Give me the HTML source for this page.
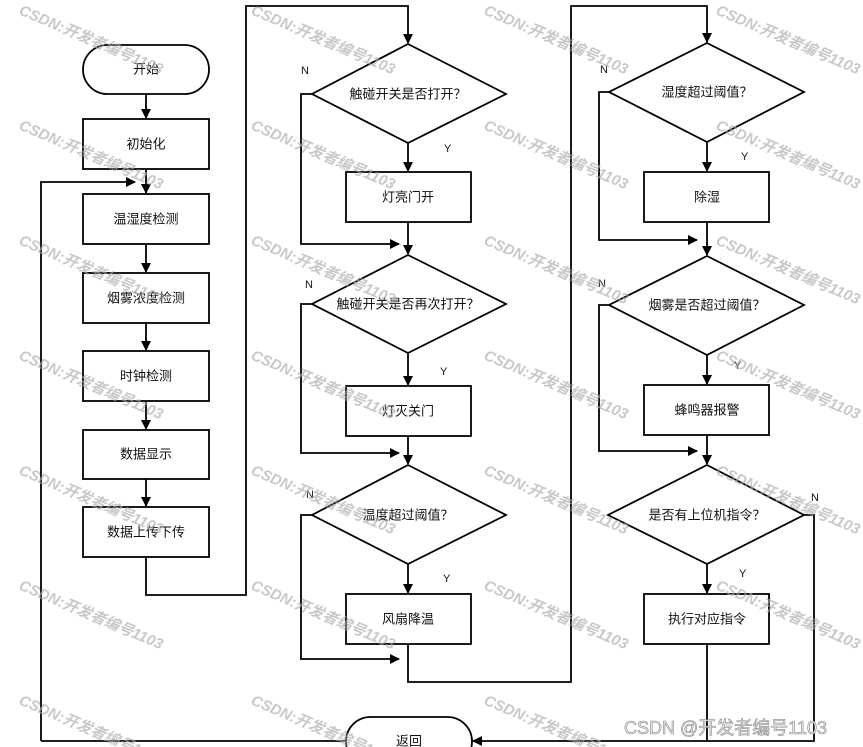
<!DOCTYPE html>
<html><head><meta charset="utf-8"><style>
html,body{margin:0;padding:0;background:#fff;}
svg{display:block;}
.t{font-family:"Liberation Sans","Noto Sans CJK SC",sans-serif;font-size:13px;fill:#111;text-anchor:middle;dominant-baseline:central;}
.yn{font-family:"Liberation Sans",sans-serif;font-size:11px;fill:#111;}
.wm{font-family:"Liberation Sans","Noto Sans CJK SC",sans-serif;font-size:15px;font-weight:bold;font-style:italic;fill:#aaa;fill-opacity:0.65;}
</style></head><body>
<svg width="863" height="747" viewBox="0 0 863 747" xmlns="http://www.w3.org/2000/svg">
<defs>
<marker id="a" markerWidth="10" markerHeight="10" refX="9" refY="5" orient="auto" markerUnits="userSpaceOnUse">
<path d="M0,0 L10,5 L0,10 z" fill="#000"/></marker>
</defs>
<g fill="none" stroke="#000" stroke-width="1.8">
<rect x="83" y="45" width="126" height="49" rx="24.5" fill="#fff"/>
<rect x="83" y="119" width="126" height="50" fill="#fff"/>
<rect x="83" y="194" width="126" height="50" fill="#fff"/>
<rect x="83" y="273" width="126" height="50" fill="#fff"/>
<rect x="83" y="351" width="126" height="50" fill="#fff"/>
<rect x="83" y="430" width="126" height="49" fill="#fff"/>
<rect x="83" y="507" width="126" height="50" fill="#fff"/>
<path d="M146,94 V118" marker-end="url(#a)"/>
<path d="M146,169 V193" marker-end="url(#a)"/>
<path d="M146,244 V272" marker-end="url(#a)"/>
<path d="M146,323 V350" marker-end="url(#a)"/>
<path d="M146,401 V429" marker-end="url(#a)"/>
<path d="M146,479 V506" marker-end="url(#a)"/>
<path d="M41,741 V182 H135" marker-end="url(#a)"/>
<path d="M146,557 V595 H246 V6 H408 V43" marker-end="url(#a)"/>
<polygon points="408,44 506,94 408,143 312,94" fill="#fff"/>
<rect x="346" y="172" width="125" height="50" fill="#fff"/>
<path d="M408,143 V171" marker-end="url(#a)"/>
<path d="M312,94 H301 V244 H399" marker-end="url(#a)"/>
<path d="M408,222 V254" marker-end="url(#a)"/>
<polygon points="408,255 506,304 408,353 312,304" fill="#fff"/>
<rect x="346" y="386" width="125" height="50" fill="#fff"/>
<path d="M408,353 V385" marker-end="url(#a)"/>
<path d="M312,304 H301 V453 H399" marker-end="url(#a)"/>
<path d="M408,436 V464" marker-end="url(#a)"/>
<polygon points="408,465 506,515 408,564 312,515" fill="#fff"/>
<rect x="346" y="594" width="125" height="50" fill="#fff"/>
<path d="M408,564 V593" marker-end="url(#a)"/>
<path d="M312,515 H301 V659 H399" marker-end="url(#a)"/>
<path d="M408,644 V682 H571 V6 H707 V42" marker-end="url(#a)"/>
<polygon points="707,43 804,92 707,142 609,92" fill="#fff"/>
<rect x="644" y="172" width="125" height="50" fill="#fff"/>
<path d="M707,142 V171" marker-end="url(#a)"/>
<path d="M609,92 H599 V240 H697" marker-end="url(#a)"/>
<path d="M707,222 V255" marker-end="url(#a)"/>
<polygon points="707,256 804,305 707,355 609,305" fill="#fff"/>
<rect x="644" y="385" width="125" height="50" fill="#fff"/>
<path d="M707,355 V384" marker-end="url(#a)"/>
<path d="M609,305 H599 V451 H697" marker-end="url(#a)"/>
<path d="M707,435 V464" marker-end="url(#a)"/>
<polygon points="707,465 804,515 707,564 608,515" fill="#fff"/>
<rect x="644" y="594" width="125" height="50" fill="#fff"/>
<path d="M707,564 V593" marker-end="url(#a)"/>
<path d="M707,644 V741"/>
<path d="M804,515 H814 V741 H473" marker-end="url(#a)"/>
<path d="M41,741 H346"/>
<rect x="346" y="717" width="126" height="49" rx="24.5" fill="#fff"/>
</g>
<text class="t" x="146" y="69">开始</text>
<text class="t" x="146" y="144">初始化</text>
<text class="t" x="146" y="219">温湿度检测</text>
<text class="t" x="146" y="298">烟雾浓度检测</text>
<text class="t" x="146" y="376">时钟检测</text>
<text class="t" x="146" y="454">数据显示</text>
<text class="t" x="146" y="532">数据上传下传</text>
<text class="t" x="408" y="94">触碰开关是否打开？</text>
<text class="t" x="408" y="197">灯亮门开</text>
<text class="t" x="408" y="304">触碰开关是否再次打开？</text>
<text class="t" x="408" y="411">灯灭关门</text>
<text class="t" x="408" y="515">温度超过阈值？</text>
<text class="t" x="408" y="619">风扇降温</text>
<text class="t" x="707" y="92">湿度超过阈值？</text>
<text class="t" x="707" y="197">除湿</text>
<text class="t" x="707" y="305">烟雾是否超过阈值？</text>
<text class="t" x="707" y="410">蜂鸣器报警</text>
<text class="t" x="707" y="515">是否有上位机指令？</text>
<text class="t" x="707" y="619">执行对应指令</text>
<text class="t" x="409" y="741">返回</text>
<text class="yn" x="301" y="74">N</text>
<text class="yn" x="444" y="152">Y</text>
<text class="yn" x="305" y="288">N</text>
<text class="yn" x="440" y="375">Y</text>
<text class="yn" x="306" y="498">N</text>
<text class="yn" x="443" y="582">Y</text>
<text class="yn" x="600" y="73">N</text>
<text class="yn" x="741" y="160">Y</text>
<text class="yn" x="598" y="287">N</text>
<text class="yn" x="734" y="369">Y</text>
<text class="yn" x="811" y="501">N</text>
<text class="yn" x="739" y="577">Y</text>
<g>
<g transform="translate(18,14) rotate(23)"><text class="wm">CSDN:开发者编号1103</text></g>
<g transform="translate(250,14) rotate(23)"><text class="wm">CSDN:开发者编号1103</text></g>
<g transform="translate(483,14) rotate(23)"><text class="wm">CSDN:开发者编号1103</text></g>
<g transform="translate(715,14) rotate(23)"><text class="wm">CSDN:开发者编号1103</text></g>
<g transform="translate(18,129) rotate(23)"><text class="wm">CSDN:开发者编号1103</text></g>
<g transform="translate(250,129) rotate(23)"><text class="wm">CSDN:开发者编号1103</text></g>
<g transform="translate(483,129) rotate(23)"><text class="wm">CSDN:开发者编号1103</text></g>
<g transform="translate(715,129) rotate(23)"><text class="wm">CSDN:开发者编号1103</text></g>
<g transform="translate(18,244) rotate(23)"><text class="wm">CSDN:开发者编号1103</text></g>
<g transform="translate(250,244) rotate(23)"><text class="wm">CSDN:开发者编号1103</text></g>
<g transform="translate(483,244) rotate(23)"><text class="wm">CSDN:开发者编号1103</text></g>
<g transform="translate(715,244) rotate(23)"><text class="wm">CSDN:开发者编号1103</text></g>
<g transform="translate(18,359) rotate(23)"><text class="wm">CSDN:开发者编号1103</text></g>
<g transform="translate(250,359) rotate(23)"><text class="wm">CSDN:开发者编号1103</text></g>
<g transform="translate(483,359) rotate(23)"><text class="wm">CSDN:开发者编号1103</text></g>
<g transform="translate(715,359) rotate(23)"><text class="wm">CSDN:开发者编号1103</text></g>
<g transform="translate(18,474) rotate(23)"><text class="wm">CSDN:开发者编号1103</text></g>
<g transform="translate(250,474) rotate(23)"><text class="wm">CSDN:开发者编号1103</text></g>
<g transform="translate(483,474) rotate(23)"><text class="wm">CSDN:开发者编号1103</text></g>
<g transform="translate(715,474) rotate(23)"><text class="wm">CSDN:开发者编号1103</text></g>
<g transform="translate(18,589) rotate(23)"><text class="wm">CSDN:开发者编号1103</text></g>
<g transform="translate(250,589) rotate(23)"><text class="wm">CSDN:开发者编号1103</text></g>
<g transform="translate(483,589) rotate(23)"><text class="wm">CSDN:开发者编号1103</text></g>
<g transform="translate(715,589) rotate(23)"><text class="wm">CSDN:开发者编号1103</text></g>
<g transform="translate(18,704) rotate(23)"><text class="wm">CSDN:开发者编号1103</text></g>
<g transform="translate(250,704) rotate(23)"><text class="wm">CSDN:开发者编号1103</text></g>
<g transform="translate(483,704) rotate(23)"><text class="wm">CSDN:开发者编号1103</text></g>
</g>
<text x="624" y="734" font-family="Liberation Sans,Noto Sans CJK SC,sans-serif" font-size="18" fill="#eee" stroke="#888" stroke-width="0.6">CSDN @开发者编号1103</text>
</svg>
</body></html>
